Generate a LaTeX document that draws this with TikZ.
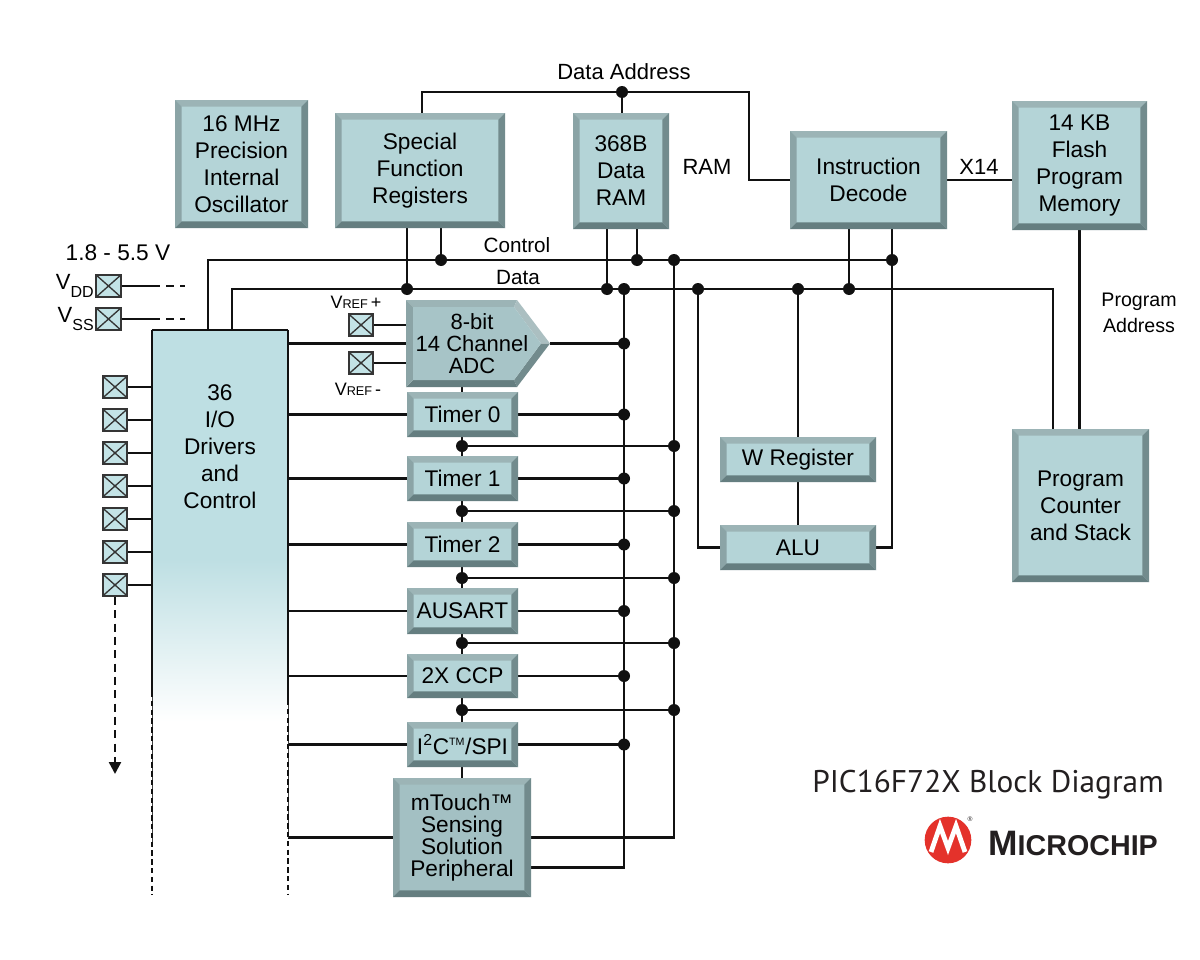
\documentclass[tikz,border=0pt]{standalone}
\usepackage{fontspec}
\setmainfont{Liberation Sans}
\newfontfamily\titlefont{PT Sans}
\usetikzlibrary{calc,arrows.meta}
\pgfdeclarelayer{back}
\pgfdeclarelayer{bg}
\pgfsetlayers{back,bg,main}
\definecolor{boxfill}{HTML}{B4D4D7}
\definecolor{darkfill}{HTML}{A3C0C3}
\definecolor{bvT}{HTML}{9CB4B6}
\definecolor{bvL}{HTML}{8BA4A6}
\definecolor{bvB}{HTML}{657E80}
\definecolor{bvR}{HTML}{728B8D}
\definecolor{iofill}{HTML}{BEDFE3}
\definecolor{pinfill}{HTML}{C3E3E6}
\definecolor{linecol}{HTML}{111111}
\definecolor{mcred}{HTML}{E4322B}
\definecolor{titlecol}{HTML}{231F20}
\def\bw{5pt}
\tikzset{
  bev/.style={inner sep=0pt, outer sep=0pt, fill=boxfill, align=center,
    font=\fontsize{17}{20.25}\selectfont,
    path picture={
      \coordinate (pNW) at (path picture bounding box.north west);
      \coordinate (pNE) at (path picture bounding box.north east);
      \coordinate (pSW) at (path picture bounding box.south west);
      \coordinate (pSE) at (path picture bounding box.south east);
      \fill[bvT] (pNW) -- (pNE) -- ([shift={(-\bw,-\bw)}]pNE) -- ([shift={(\bw,-\bw)}]pNW) -- cycle;
      \fill[bvL] (pNW) -- (pSW) -- ([shift={(\bw,\bw)}]pSW) -- ([shift={(\bw,-\bw)}]pNW) -- cycle;
      \fill[bvB] (pSW) -- (pSE) -- ([shift={(-\bw,\bw)}]pSE) -- ([shift={(\bw,\bw)}]pSW) -- cycle;
      \fill[bvR] (pSE) -- (pNE) -- ([shift={(-\bw,-\bw)}]pNE) -- ([shift={(-\bw,\bw)}]pSE) -- cycle;
    }},
  plainbox/.style={inner sep=0pt, outer sep=0pt, align=center},
  wire/.style={line width=2pt, draw=linecol},
  iodash/.style={line width=1.8pt, draw=linecol, dash pattern=on 4pt off 2.6pt},
  padbox/.style={draw=linecol!85, line width=1.3pt, fill=pinfill, minimum width=18.5pt,
    minimum height=16.5pt, inner sep=0pt,
    path picture={\draw[line width=1pt, linecol!85]
      (path picture bounding box.north west) -- (path picture bounding box.south east)
      (path picture bounding box.north east) -- (path picture bounding box.south west);}},
  lbl/.style={font=\fontsize{15.5}{18}\selectfont, inner sep=0pt},
  biglbl/.style={font=\fontsize{16.5}{19}\selectfont, inner sep=0pt},
}
% \bbox[opts]{name}{x1}{y1}{x2}{y2}{text}
\newcommand{\bbox}[7][]{%
  \pgfmathsetmacro\bbw{(#5-#3)*0.75}%
  \pgfmathsetmacro\bbh{(#6-#4)*0.75}%
  \node[bev, minimum width=\bbw pt, minimum height=\bbh pt, #1] (#2) at ({(#3+#5)/2},{(#4+#6)/2}) {#7};}
\newcommand{\dotat}[1]{\fill[linecol] (#1) circle (4.5pt);}
\begin{document}
\begin{tikzpicture}[x=0.75pt, y=-0.75pt]
\begin{pgfonlayer}{back}
\fill[white] (0,0) rectangle (1200,960);
\end{pgfonlayer}
\useasboundingbox (0,0) rectangle (1200,960);

% ---------- blocks ----------
\bbox{osc}{175}{100}{308}{228}{16 MHz\\Precision\\Internal\\Oscillator}
\bbox{sfr}{335}{113}{505}{228}{Special\\Function\\Registers}
\bbox{ram}{573}{113}{669}{229}{368B\\Data\\RAM}
\bbox{dec}{790}{131}{947}{229}{Instruction\\Decode}
\bbox{flash}{1012}{101}{1147}{230}{14 KB\\Flash\\Program\\Memory}
\bbox{pc}{1012}{429}{1149}{582}{Program\\Counter\\and Stack}
\bbox{wreg}{720}{437}{876}{482}{W Register}
\bbox{alu}{720}{525}{876}{570}{ALU}
\bbox{t0}{407}{392}{518}{437}{Timer 0}
\bbox{t1}{407}{456}{518}{501}{Timer 1}
\bbox{t2}{407}{522}{518}{567}{Timer 2}
\bbox{aus}{407}{588}{518}{634}{AUSART}
\bbox{ccp}{407}{654}{518}{698}{2X CCP}
\bbox{i2c}{407}{722}{518}{767}{I\textsuperscript{2}C\textsuperscript{\fontsize{8}{8}\selectfont TM}/SPI}
\bbox[fill=darkfill, font=\fontsize{17}{16.5}\selectfont]{mt}{393}{778}{531}{897}{mTouch\texttrademark\\Sensing\\Solution\\Peripheral}

% ADC pentagon
\fill[bvT] (406,300) -- (517,300) -- (514,307) -- (413,307) -- cycle;
\fill[bvT!85!white] (517,300) -- (550,343.5) -- (541,343.5) -- (514,307) -- cycle;
\fill[bvR] (550,343.5) -- (517,387) -- (514,380) -- (541,343.5) -- cycle;
\fill[bvB] (517,387) -- (406,387) -- (413,380) -- (514,380) -- cycle;
\fill[bvL] (406,387) -- (406,300) -- (413,307) -- (413,380) -- cycle;
\fill[darkfill!80!boxfill] (413,307) -- (514,307) -- (541,343.5) -- (514,380) -- (413,380) -- cycle;
\node[plainbox, minimum width=83.25pt, minimum height=65.25pt] (adc) at (461.5,343.5) {};
\node[plainbox, font=\fontsize{16.5}{16.5}\selectfont] (adctxt) at (472,344) {8-bit\\14 Channel\\ADC};
\coordinate (adctip) at (550,343.5);

% I/O block
\node[plainbox, minimum width=102pt, minimum height=423.75pt] (io) at (220,612.5) {};
\begin{pgfonlayer}{bg}
\fill[iofill] (152,330) rectangle (288,560);
\shade[top color=iofill, bottom color=white] (152,559.5) rectangle (288,722);
\end{pgfonlayer}
\node[align=center, font=\fontsize{17}{20.25}\selectfont] (iotxt) at (220,447) {36\\I/O\\Drivers\\and\\Control};
\draw[line width=1.4pt, linecol] (io.north west) -- (io.north east);
\draw[line width=1.4pt, linecol] (io.north west) -- (152,692);
\draw[line width=1.4pt, linecol] (io.north east) -- (288,700);
\draw[line width=0.7pt, linecol!80] (152,692) -- (152,847);
\draw[line width=0.7pt, linecol!80] (288,700) -- (288,838);
\draw[iodash] (152,692) -- (io.south west);
\draw[iodash] (288,700) -- (io.south east);

% pins
\foreach \i in {0,...,6} {
  \node[padbox] (p\i) at (115,{387+33*\i}) {};
  \draw[wire, line width=1.8pt] (p\i.east) -- (io.west |- p\i.east);
}
\coordinate (arrEnd) at (115,774);
\draw[line width=1.8pt, linecol, dash pattern=on 6pt off 4pt, -{Triangle[length=9pt,width=9pt]}] (p6.south) -- (arrEnd);

% supply pins
\node[padbox] (vdd) at (108.5,286) {};
\node[padbox] (vss) at (108.5,319) {};
\coordinate (vddA) at (152,286); \coordinate (vddB) at (185,286);
\coordinate (vssA) at (152,319); \coordinate (vssB) at (185,319);
\draw[line width=1.5pt, linecol] (vdd.east) -- (vddA);
\draw[line width=1.5pt, linecol, dash pattern=on 6pt off 4.5pt] (vddA) -- (vddB);
\draw[line width=1.5pt, linecol] (vss.east) -- (vssA);
\draw[line width=1.5pt, linecol, dash pattern=on 6pt off 4.5pt] (vssA) -- (vssB);
\node[anchor=east, inner sep=1pt, font=\fontsize{16.5}{18}\selectfont] (vddl) at (vdd.west) {V\raisebox{-5.5pt}{\fontsize{12}{12}\selectfont DD}};
\node[anchor=east, inner sep=1pt, font=\fontsize{16.5}{18}\selectfont] (vssl) at (vss.west) {V\raisebox{-5.5pt}{\fontsize{12}{12}\selectfont SS}};
\node[font=\fontsize{17}{18}\selectfont, inner sep=0pt] (vrange) at (118,253) {1.8 - 5.5 V};

% Vref pins
\node[padbox] (vrp) at (361,325) {};
\node[padbox] (vrm) at (361,363) {};
\node[inner sep=0pt, font=\fontsize{13.5}{14}\selectfont] (vrpl) at (356,302) {V{\fontsize{9.5}{10}\selectfont REF}\,+};
\node[inner sep=0pt, font=\fontsize{13.5}{14}\selectfont] (vrml) at (358,389) {V{\fontsize{9.5}{10}\selectfont REF}\,-};

% ---------- bus coordinates ----------
\coordinate (cbL) at (208,260);
\coordinate (dbL) at (232,289);
\coordinate (c441) at (441,260);
\coordinate (c637) at (637,260);
\coordinate (c674) at (674,260);
\coordinate (c892) at (892,260);
\coordinate (d407) at (407,289);
\coordinate (d607) at (607,289);
\coordinate (d624) at (624,289);
\coordinate (d698) at (698,289);
\coordinate (d798) at (798,289);
\coordinate (d849) at (849,289);
\coordinate (dR) at (1053,289);
\coordinate (daL) at (422,92);
\coordinate (da622) at (622,92);
\coordinate (daR) at (749,92);
\coordinate (colx) at (462,0);
\coordinate (mtlow) at ($(mt.east)+(0,30)$);
\foreach \n/\y in {1/446,2/511,3/578,4/643,5/710} { \coordinate (j\n) at (462,\y); }

% ---------- wires ----------
\begin{pgfonlayer}{bg}
\draw[wire] (cbL |- io.north) -- (cbL) -- (c892);
\draw[wire] (dbL |- io.north) -- (dbL) -- (dR) -- (dR |- pc.north);
\draw[wire] (sfr.north -| daL) -- (daL) -- (daR) |- (dec.west);
\draw[wire] (da622) -- (ram.north -| da622);
\draw[wire] (sfr.south -| d407) -- (d407);
\draw[wire] (sfr.south -| c441) -- (c441);
\draw[wire] (ram.south -| d607) -- (d607);
\draw[wire] (ram.south -| c637) -- (c637);
\draw[wire] (dec.south -| d849) -- (d849);
\draw[wire] (dec.south -| c892) |- (alu.east);
\draw[wire] (d624) |- (mtlow);
\draw[wire] (c674) |- (mt.east);
\draw[wire] (d698) |- (alu.west);
\draw[wire] (d798) -- (wreg.north);
\draw[wire] (wreg.south) -- (alu.north);
\draw[wire] (flash.south) -- (flash.south |- pc.north);
\draw[wire] (dec.east) -- (dec.east -| flash.west);
\draw[wire] (colx |- adc.south) -- (colx |- mt.north);
\draw[wire] (io.north east |- adc.west) -- (adc.west);
\draw[wire] (adctip) -- (d624 |- adctip);
\draw[wire] (vrp.east) -- (adc.west |- vrp.east);
\draw[wire] (vrm.east) -- (adc.west |- vrm.east);
\foreach \b in {t0,t1,t2,aus,ccp,i2c} {
  \draw[wire] (io.north east |- \b.west) -- (\b.west);
  \draw[wire] (\b.east) -- (d624 |- \b.east);
}
\draw[wire] (io.north east |- mt.west) -- (mt.west);
\foreach \n in {1,...,5} { \draw[wire] (j\n) -- (c674 |- j\n); }
\end{pgfonlayer}

% dots
\foreach \c in {c441,c637,c674,c892,d407,d607,d624,d698,d798,d849,da622} { \dotat{\c} }
\foreach \n in {1,...,5} { \dotat{j\n} \dotat{c674 |- j\n} }
\foreach \b in {t0,t1,t2,aus,ccp,i2c,adctip} { \dotat{d624 |- \b} }

% ---------- labels ----------
\node[biglbl] (ldaddr) at (624,72) {Data Address};
\node[biglbl] (lram) at (707,167) {RAM};
\node[biglbl] (lx14) at (979,167) {X14};
\node[lbl] (lctrl) at (517,245) {Control};
\node[lbl] (ldata) at (518,277) {Data};
\node[align=center, font=\fontsize{14.7}{19.5}\selectfont, inner sep=0pt] (lpaddr) at (1139,313) {Program\\Address};

% title and logo
\node[font=\titlefont\fontsize{23.5}{26}\selectfont, text=titlecol, inner sep=0pt] (title) at (988,785) {PIC16F72X Block Diagram};
\fill[mcred] (948,840) circle (17.5pt);
\draw[white, line width=3.6pt, line join=miter] (931,852) -- (940,826) -- (948,848) -- (956,826) -- (965,852);
\node[anchor=west, inner sep=0pt, font=\bfseries, text=titlecol] (mclogo) at (988,843) {{\fontsize{26.5}{26}\selectfont M}{\fontsize{21.5}{20}\selectfont ICROCHIP}};
\node[inner sep=0pt, font=\fontsize{5}{5}\selectfont, text=titlecol] (reg) at (970,819) {\textregistered};
\end{tikzpicture}
\end{document}
